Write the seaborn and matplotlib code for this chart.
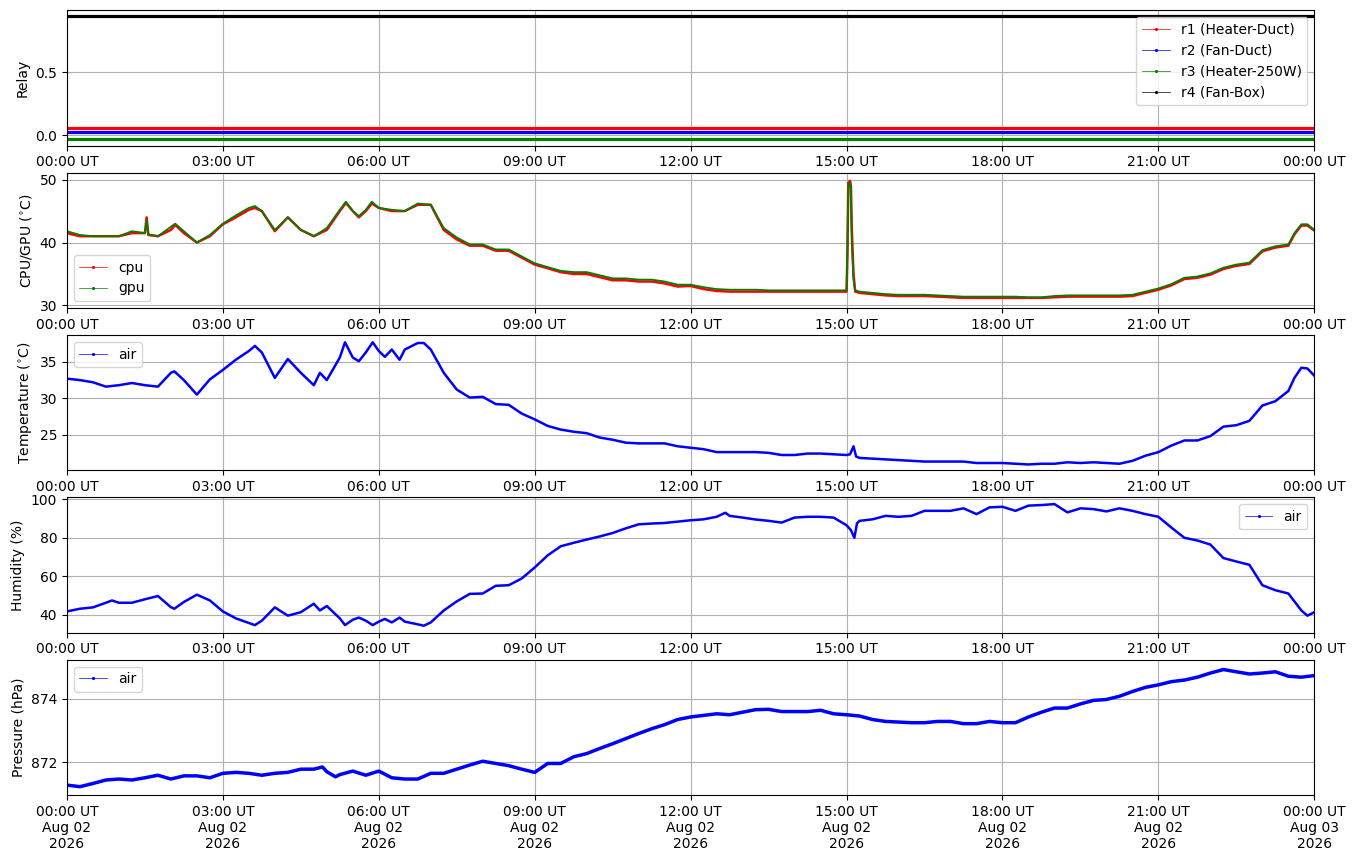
import matplotlib
matplotlib.use("Agg")
import matplotlib.pyplot as plt
import matplotlib.dates as mdates
import numpy as np
import pandas as pd
import seaborn as sns

DAY = pd.Timestamp("2026-08-02")

# relay states (0 = off, 1 = on) at start and end of the day
relay_times = ["00:00", "24:00"]
r1_state = [0, 0]
r2_state = [0, 0]
r3_state = [0, 0]
r4_state = [1, 1]
relay_labels = ["r1 (Heater-Duct)", "r2 (Fan-Duct)", "r3 (Heater-250W)", "r4 (Fan-Box)"]

# 15 minute readings 00:00 .. 24:00 (97 values each)
cpu = [41.5, 41.0, 41.0, 41.0, 41.0, 41.5, 41.5, 41.0,
       42.0, 41.5, 40.0, 41.0, 42.9, 44.0, 45.2, 45.0,
       41.8, 44.0, 42.0, 41.0, 42.0, 45.0, 45.0, 45.0,
       45.5, 45.0, 45.0, 46.0, 46.0, 42.0, 40.5, 39.5,
       39.5, 38.7, 38.7, 37.6, 36.5, 35.9, 35.3, 35.0,
       35.0, 34.5, 34.0, 34.0, 33.8, 33.8, 33.5, 33.0,
       33.1, 32.6, 32.3, 32.2, 32.2, 32.2, 32.2, 32.2,
       32.2, 32.2, 32.2, 32.2, 32.2, 32.0, 31.8, 31.6,
       31.5, 31.5, 31.5, 31.4, 31.3, 31.2, 31.2, 31.2,
       31.2, 31.2, 31.2, 31.2, 31.3, 31.4, 31.4, 31.4,
       31.4, 31.4, 31.5, 32.0, 32.5, 33.2, 34.2, 34.4,
       34.9, 35.8, 36.3, 36.6, 38.6, 39.2, 39.5, 42.7,
       41.9]
gpu = [41.8, 41.2, 41.0, 41.0, 41.0, 41.8, 41.5, 41.0,
       42.5, 41.8, 40.0, 41.2, 43.0, 44.3, 45.5, 45.0,
       42.0, 44.0, 42.0, 41.0, 42.3, 45.2, 45.0, 45.2,
       45.5, 45.2, 45.0, 46.2, 46.0, 42.3, 40.8, 39.7,
       39.7, 38.9, 38.9, 37.8, 36.7, 36.1, 35.5, 35.3,
       35.3, 34.8, 34.3, 34.3, 34.1, 34.1, 33.8, 33.3,
       33.3, 32.9, 32.6, 32.5, 32.5, 32.5, 32.4, 32.4,
       32.4, 32.4, 32.4, 32.4, 32.4, 32.2, 32.0, 31.8,
       31.7, 31.7, 31.7, 31.6, 31.5, 31.4, 31.4, 31.4,
       31.4, 31.4, 31.3, 31.3, 31.5, 31.6, 31.6, 31.6,
       31.6, 31.6, 31.7, 32.2, 32.7, 33.4, 34.4, 34.6,
       35.1, 36.0, 36.5, 36.8, 38.8, 39.4, 39.7, 42.9,
       42.0]
cpu_extra_t = ["01:32", "01:34", "02:05", "03:37", "05:22", "05:37", "05:52",
               "15:01", "15:02", "15:04", "15:05", "15:06", "15:08", "15:10",
               "23:37", "23:52"]
cpu_extra_v = [44.0, 41.2, 42.8, 45.5, 46.3, 44.0, 46.2,
               38.0, 49.5, 49.8, 49.0, 42.3, 35.0, 32.2,
               41.3, 42.7]
gpu_extra_v = [43.5, 41.3, 43.0, 45.8, 46.5, 44.2, 46.5,
               39.5, 49.3, 49.5, 48.5, 40.0, 34.0, 32.4,
               41.5, 42.9]

temp = [32.7, 32.5, 32.2, 31.6, 31.8, 32.1, 31.8, 31.6,
        33.5, 32.5, 30.5, 32.6, 33.9, 35.3, 36.5, 36.3,
        32.8, 35.4, 33.5, 31.8, 32.5, 35.6, 35.6, 36.3,
        36.5, 36.7, 36.7, 37.6, 36.7, 33.5, 31.2, 30.1,
        30.2, 29.2, 29.1, 27.9, 27.1, 26.2, 25.7, 25.4,
        25.2, 24.6, 24.3, 23.9, 23.8, 23.8, 23.8, 23.4,
        23.2, 23.0, 22.6, 22.6, 22.6, 22.6, 22.5, 22.2,
        22.2, 22.4, 22.4, 22.3, 22.2, 21.8, 21.7, 21.6,
        21.5, 21.4, 21.3, 21.3, 21.3, 21.3, 21.1, 21.1,
        21.1, 21.0, 20.9, 21.0, 21.0, 21.2, 21.1, 21.2,
        21.1, 21.0, 21.4, 22.1, 22.6, 23.5, 24.2, 24.2,
        24.8, 26.1, 26.3, 26.9, 29.0, 29.6, 31.0, 34.2,
        33.1]
temp_extra_t = ["02:04", "03:37", "04:52", "05:21", "05:37", "05:53", "06:07",
                "06:24", "06:52", "15:04", "15:08", "15:11", "23:37", "23:52"]
temp_extra_v = [33.7, 37.2, 33.5, 37.7, 35.1, 37.7, 35.7,
                35.3, 37.6, 22.3, 23.4, 22.0, 32.8, 34.1]

hum = [41.8, 43.2, 43.9, 46.3, 46.3, 46.3, 48.1, 49.8,
       44.0, 46.7, 50.5, 47.5, 41.8, 38.2, 35.8, 37.0,
       43.9, 39.6, 41.4, 45.8, 44.6, 38.2, 37.5, 37.0,
       36.5, 36.1, 36.5, 35.1, 36.1, 42.3, 47.0, 50.9,
       51.1, 55.1, 55.4, 58.9, 64.6, 70.9, 75.6, 77.4,
       79.1, 80.7, 82.5, 84.9, 87.0, 87.4, 87.7, 88.4,
       89.1, 89.6, 90.9, 91.4, 90.5, 89.5, 88.8, 87.9,
       90.5, 90.9, 90.9, 90.5, 86.5, 88.8, 89.6, 91.4,
       90.9, 91.4, 94.0, 94.0, 94.0, 95.3, 92.3, 95.8,
       96.1, 94.0, 96.7, 97.0, 97.5, 93.2, 95.3, 94.9,
       93.7, 95.3, 94.0, 92.3, 90.9, 85.3, 80.0, 78.6,
       76.5, 69.5, 67.7, 66.0, 55.4, 52.8, 51.1, 42.3,
       41.4]
hum_extra_t = ["00:52", "02:04", "03:37", "04:52", "05:21", "05:37", "05:53", "06:07",
               "06:24", "06:52", "12:40", "15:05", "15:09", "15:12", "23:52"]
hum_extra_v = [47.5, 43.2, 34.7, 42.3, 34.7, 38.6, 34.7, 37.9,
               38.6, 34.4, 93.0, 84.0, 80.0, 87.5, 39.6]

pres = [871.29, 871.24, 871.34, 871.45, 871.48, 871.45, 871.52, 871.60,
        871.48, 871.58, 871.58, 871.52, 871.66, 871.69, 871.66, 871.60,
        871.66, 871.69, 871.79, 871.79, 871.71, 871.62, 871.73, 871.60,
        871.73, 871.52, 871.48, 871.48, 871.66, 871.66, 871.79, 871.92,
        872.04, 871.97, 871.90, 871.79, 871.69, 871.97, 871.97, 872.18,
        872.28, 872.44, 872.59, 872.75, 872.91, 873.06, 873.19, 873.35,
        873.43, 873.48, 873.53, 873.50, 873.58, 873.66, 873.67, 873.60,
        873.60, 873.60, 873.64, 873.53, 873.50, 873.46, 873.35, 873.29,
        873.27, 873.25, 873.25, 873.29, 873.29, 873.22, 873.22, 873.29,
        873.25, 873.25, 873.43, 873.58, 873.71, 873.71, 873.84, 873.95,
        873.98, 874.08, 874.23, 874.36, 874.44, 874.54, 874.59, 874.68,
        874.81, 874.92, 874.85, 874.78, 874.81, 874.85, 874.71, 874.68,
        874.73]
pres_extra_t = ["04:55", "05:10"]
pres_extra_v = [871.86, 871.55]


def to_time(hhmm):
    h, m = hhmm.split(":")
    return DAY + pd.Timedelta(hours=int(h), minutes=int(m))


grid = pd.date_range(DAY, periods=97, freq="15min")


def series(values, extra_t=(), extra_v=()):
    t = list(grid) + [to_time(s) for s in extra_t]
    v = list(values) + list(extra_v)
    return pd.DataFrame({"time": t, "value": v}).sort_values("time")


fig, axes = plt.subplots(5, 1, figsize=(13.55, 8.61), dpi=100)
fig.subplots_adjust(left=0.0494, right=0.970, top=0.988, bottom=0.0767, hspace=0.2)


def style_legend(ax, loc):
    leg = ax.legend(loc=loc)
    for h in leg.legend_handles:
        col = h.get_color()
        h.set_linewidth(0.5)
        h.set_marker(".")
        h.set_markersize(3)
        h.set_markerfacecolor(col)
        h.set_markeredgecolor(col)


# relays, drawn with small offsets so they don't overlap
rt = [to_time(s) for s in relay_times]
offsets = [1 / 16, 1 / 32, -1 / 32, -1 / 16]
colors = ["red", "blue", "green", "black"]
for state, off, col, lab in zip([r1_state, r2_state, r3_state, r4_state], offsets, colors, relay_labels):
    sns.lineplot(x=rt, y=np.array(state) + off, ax=axes[0], color=col,
                 linewidth=2.3, label=lab)
axes[0].set_ylim(-0.0797, 0.986)
axes[0].set_ylabel("Relay")
style_legend(axes[0], "upper right")

c = series(cpu, cpu_extra_t, cpu_extra_v)
g = series(gpu, cpu_extra_t, gpu_extra_v)
sns.lineplot(data=c, x="time", y="value", ax=axes[1], color="red", linewidth=1.8, label="cpu")
sns.lineplot(data=g, x="time", y="value", ax=axes[1], color="green", linewidth=1.3, label="gpu")
axes[1].set_ylim(29.6, 51.1)
axes[1].set_ylabel("CPU/GPU ($^{\\circ}$C)")
style_legend(axes[1], "lower left")

t = series(temp, temp_extra_t, temp_extra_v)
sns.lineplot(data=t, x="time", y="value", ax=axes[2], color="blue", linewidth=1.8, label="air")
axes[2].set_ylim(20.1, 38.7)
axes[2].set_ylabel("Temperature ($^{\\circ}$C)")
style_legend(axes[2], "upper left")

hm = series(hum, hum_extra_t, hum_extra_v)
sns.lineplot(data=hm, x="time", y="value", ax=axes[3], color="blue", linewidth=1.8, label="air")
axes[3].set_ylim(30.8, 101)
axes[3].set_yticks([40, 60, 80, 100])
axes[3].set_ylabel("Humidity (%)")
style_legend(axes[3], "upper right")

p = series(pres, pres_extra_t, pres_extra_v)
sns.lineplot(data=p, x="time", y="value", ax=axes[4], color="blue", linewidth=2.5, label="air")
axes[4].set_ylim(870.98, 875.23)
axes[4].set_yticks([872, 874])
axes[4].set_ylabel("Pressure (hPa)")
style_legend(axes[4], "upper left")

for i, ax in enumerate(axes):
    ax.set_xlim(DAY, DAY + pd.Timedelta(days=1))
    ax.xaxis.set_major_locator(mdates.HourLocator(byhour=range(0, 24, 3)))
    if i == 4:
        ax.xaxis.set_major_formatter(mdates.DateFormatter("%H:%M UT\n%b %d\n%Y"))
    else:
        ax.xaxis.set_major_formatter(mdates.DateFormatter("%H:%M UT"))
    ax.set_xlabel("")
    ax.grid(True)

fig.savefig("out.png", dpi=100)
